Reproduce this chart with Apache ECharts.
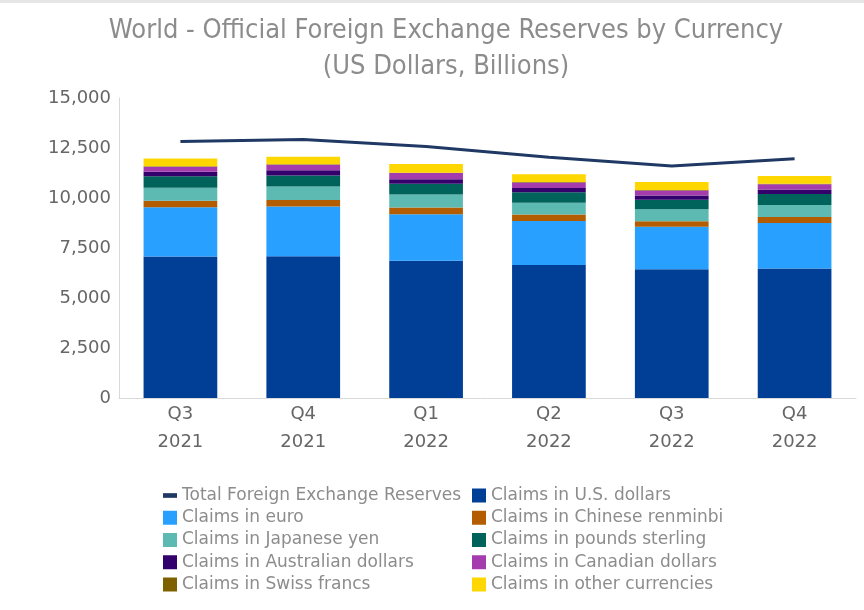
<!DOCTYPE html>
<html>
<head>
<meta charset="utf-8">
<script src="https://cdn.jsdelivr.net/npm/echarts@6/dist/echarts.min.js"></script>
<style>html,body{margin:0;padding:0;background:#fff}#c{width:864px;height:610px}</style>
</head>
<body>
<div id="c"></div>
<script>
const categories = ['Q3\n2021','Q4\n2021','Q1\n2022','Q2\n2022','Q3\n2022','Q4\n2022'];
const totalReserves = [12830, 12920, 12577, 12035, 11596, 11958];
const usd   = [7080, 7087, 6860, 6655, 6440, 6471];
const euro  = [2455, 2482, 2330, 2190, 2120, 2278];
const cny   = [330, 337, 330, 325, 280, 298];
const jpy   = [650, 664, 660, 595, 595, 608];
const gbp   = [575, 560, 530, 520, 480, 549];
const aud   = [225, 260, 225, 220, 210, 225];
const cad   = [250, 275, 310, 265, 250, 261];
const chf   = [20, 21, 20, 25, 24, 25];
const other = [390, 380, 430, 390, 395, 380];
const yTicks = [0, 2500, 5000, 7500, 10000, 12500, 15000];

const barSeries = [
  ['Claims in U.S. dollars', usd, '#013f97'],
  ['Claims in euro', euro, '#27a0ff'],
  ['Claims in Chinese renminbi', cny, '#b35d00'],
  ['Claims in Japanese yen', jpy, '#5dbab2'],
  ['Claims in pounds sterling', gbp, '#00635b'],
  ['Claims in Australian dollars', aud, '#34006c'],
  ['Claims in Canadian dollars', cad, '#a53cae'],
  ['Claims in Swiss francs', chf, '#7f6000'],
  ['Claims in other currencies', other, '#ffd700']
];

const series = barSeries.map(([name, data, color]) => ({
  name, type: 'bar', stack: 'total', data,
  barWidth: '60%',
  itemStyle: { color },
  emphasis: { disabled: true }
}));
series.push({
  name: 'Total Foreign Exchange Reserves', type: 'line', data: totalReserves,
  symbol: 'none', z: 10,
  lineStyle: { color: '#1f3864', width: 3 },
  itemStyle: { color: '#1f3864' }
});

const FONT = 'DejaVu Sans';
const legendText = { color: '#8c8c8c', fontSize: 17, fontFamily: FONT };
const chart = echarts.init(document.getElementById('c'), null, { renderer: 'canvas' });
chart.setOption({
  animation: false,
  backgroundColor: '#fff',
  title: {
    text: 'World - Official Foreign Exchange Reserves by Currency\n(US Dollars, Billions)',
    left: 441, top: 8, textAlign: 'center',
    textStyle: { color: '#8c8c8c', fontSize: 27, fontWeight: 'normal',
      fontFamily: 'Liberation Sans Narrow, DejaVu Sans Condensed, sans-serif', lineHeight: 36 }
  },
  graphic: [{ type: 'rect', left: 0, top: 0, shape: { width: 864, height: 3 }, style: { fill: '#e6e6e6' } }],
  grid: { left: 119, right: 8, top: 98, bottom: 212 },
  legend: [
    { data: [{ name: 'Total Foreign Exchange Reserves', icon: 'path://M0,0H12V4H0Z' },'Claims in euro','Claims in Japanese yen','Claims in Australian dollars','Claims in Swiss francs'],
      orient: 'vertical', left: 158, top: 482, itemWidth: 14, itemHeight: 14, itemGap: 5.25,
      icon: 'rect', textStyle: legendText, selectedMode: false },
    { data: ['Claims in U.S. dollars','Claims in Chinese renminbi','Claims in pounds sterling','Claims in Canadian dollars','Claims in other currencies'],
      orient: 'vertical', left: 467, top: 482, itemWidth: 14, itemHeight: 14, itemGap: 5.25,
      icon: 'rect', textStyle: legendText, selectedMode: false }
  ],
  xAxis: {
    type: 'category', data: categories,
    axisLine: { lineStyle: { color: '#d9d9d9' } },
    axisTick: { show: false },
    axisLabel: { color: '#666', fontSize: 18, fontFamily: FONT, lineHeight: 28, margin: 2 }
  },
  yAxis: {
    type: 'value', min: 0, max: 15000, interval: 2500,
    axisLine: { show: true, lineStyle: { color: '#d9d9d9' } },
    axisTick: { show: false },
    splitLine: { show: false },
    axisLabel: { color: '#666', fontSize: 18, fontFamily: FONT, margin: 8,
      formatter: v => yTicks.includes(v) ? v.toLocaleString('en-US') : '' }
  },
  series
});
</script>
</body>
</html>
